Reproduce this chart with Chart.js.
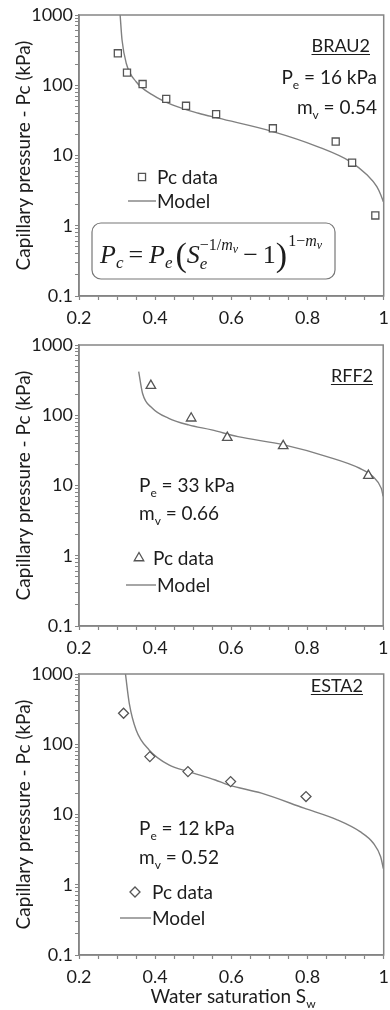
<!DOCTYPE html>
<html>
<head>
<meta charset="utf-8">
<script src="https://cdn.jsdelivr.net/npm/chart.js@4.4.1/dist/chart.umd.min.js"></script>
<style>
  body { margin: 0; background: #fff; }
  canvas { display: block; }
</style>
</head>
<body>
<canvas id="brau" width="390" height="330"></canvas>
<canvas id="rff" width="390" height="330"></canvas>
<canvas id="esta" width="390" height="350"></canvas>
<script>
// --- tick labels ---
const xTickLabels = [0.2, 0.4, 0.6, 0.8, 1];
const yTickLabels = [0.1, 1, 10, 100, 1000];

// --- BRAU2 ---
const brauSw = [0.302, 0.326, 0.367, 0.429, 0.481, 0.560, 0.709, 0.874, 0.917, 0.978];
const brauPc = [285, 151, 104, 64, 51, 38.7, 24.4, 15.8, 7.9, 1.40];
const brauModelSw = [0.308, 0.313, 0.324, 0.350, 0.393, 0.445, 0.514, 0.566, 0.709, 0.826, 0.912, 0.956, 0.982, 0.993, 0.999];
const brauModelPc = [1000, 441, 206, 112, 72.8, 52.5, 40, 34, 21.9, 13.4, 8.2, 5.3, 3.6, 2.7, 2.2];

// --- RFF2 ---
const rffSw = [0.389, 0.495, 0.590, 0.737, 0.961];
const rffPc = [264, 90.6, 48, 36.6, 13.8];
const rffModelSw = [0.357, 0.367, 0.393, 0.436, 0.488, 0.549, 0.618, 0.739, 0.852, 0.938, 0.973, 0.995, 1.0];
const rffModelPc = [417, 206, 126, 90.6, 72.8, 61.8, 49.6, 37.8, 25.8, 17.6, 13.4, 9.1, 7.0];

// --- ESTA2 ---
const estaSw = [0.317, 0.386, 0.486, 0.598, 0.796];
const estaPc = [276, 66.7, 40.8, 29.4, 18.0];
const estaModelSw = [0.322, 0.332, 0.350, 0.384, 0.436, 0.488, 0.558, 0.592, 0.679, 0.791, 0.878, 0.938, 0.973, 0.992, 0.999];
const estaModelPc = [1000, 383, 160, 83, 50.8, 40.8, 31, 26.4, 20.1, 12.3, 8.4, 5.7, 3.9, 2.5, 1.7];

const FONT = 'Lato, "Open Sans", sans-serif';
const MATH = '"Liberation Serif", "DejaVu Serif", serif';
const INK = '#1c1c1c';
const GREY = '#858585';

// text with subscripts: parts = [[text, isSub], ...]
function richText(ctx, parts, x, y, align, size) {
    const big = size + 'px ' + FONT;
    const small = Math.round(size * 0.62) + 'px ' + FONT;
    let w = 0;
    parts.forEach(p => { ctx.font = p[1] ? small : big; w += ctx.measureText(p[0]).width; });
    let cx = align === 'right' ? x - w : align === 'center' ? x - w / 2 : x;
    const start = cx;
    parts.forEach(p => {
        ctx.font = p[1] ? small : big;
        ctx.fillText(p[0], cx, y + (p[1] ? size * 0.28 : 0));
        cx += ctx.measureText(p[0]).width;
    });
    return [start, cx];
}

function marker(ctx, style, x, y, r) {
    ctx.beginPath();
    if (style === 'rect') {
        const h = r * Math.SQRT1_2;
        ctx.rect(x - h, y - h, 2 * h, 2 * h);
    } else if (style === 'triangle') {
        ctx.moveTo(x, y - r);
        ctx.lineTo(x + 0.866 * r, y + 0.5 * r);
        ctx.lineTo(x - 0.866 * r, y + 0.5 * r);
        ctx.closePath();
    } else {
        ctx.moveTo(x - r, y);
        ctx.lineTo(x, y - r);
        ctx.lineTo(x + r, y);
        ctx.lineTo(x, y + r);
        ctx.closePath();
    }
    ctx.fillStyle = '#fff';
    ctx.fill();
    ctx.strokeStyle = '#555';
    ctx.lineWidth = 1.3;
    ctx.stroke();
}

function drawFormula(ctx, x, y) {
    const it = s => 'italic ' + s + 'px ' + MATH;
    const rm = s => s + 'px ' + MATH;
    const put = (t, f, dx, dy) => { ctx.font = f; ctx.fillText(t, dx, y + dy); return ctx.measureText(t).width; };
    let cx = x;
    cx += put('P', it(26), cx, 0);
    cx += put('c', it(17), cx, 5) + 5;
    cx += put('=', rm(26), cx, 0) + 6;
    cx += put('P', it(26), cx, 0);
    cx += put('e', it(17), cx, 5) + 3;
    cx += put('(', rm(34), cx, 3);
    cx += put('S', it(26), cx, 0);
    put('e', it(17), cx, 6);
    cx += put('\u22121/', rm(16), cx, -13);
    cx += put('m', it(16), cx, -13);
    cx += put('v', it(12), cx, -10) + 5;
    cx += put('\u2212', rm(26), cx, 0) + 5;
    cx += put('1', rm(26), cx, 0);
    cx += put(')', rm(34), cx, 3) + 1;
    cx += put('1\u2212', rm(16), cx, -17);
    cx += put('m', it(16), cx, -17);
    put('v', it(12), cx, -14);
}

const panelPlugin = {
    id: 'panel',
    afterDraw(chart, args, o) {
        const ctx = chart.ctx;
        const a = chart.chartArea;
        ctx.save();
        // frame
        ctx.strokeStyle = GREY;
        ctx.lineWidth = 1.5;
        ctx.strokeRect(a.left, a.top, a.right - a.left, a.bottom - a.top);

        ctx.fillStyle = INK;
        ctx.textBaseline = 'alphabetic';
        // sample name, underlined
        ctx.font = '18px ' + FONT;
        const nw = ctx.measureText(o.name).width;
        ctx.textAlign = 'left';
        ctx.fillText(o.name, o.nameX - nw, o.nameY + 6.5);
        ctx.strokeStyle = INK;
        ctx.lineWidth = 1.1;
        ctx.beginPath();
        ctx.moveTo(o.nameX - nw, o.nameY + 9.5);
        ctx.lineTo(o.nameX, o.nameY + 9.5);
        ctx.stroke();

        // parameters
        richText(ctx, [['P', false], ['e', true], [' = ' + o.pe + ' kPa', false]], o.paramX, o.peY + 6.5, o.paramAlign, 19);
        richText(ctx, [['m', false], ['v', true], [' = ' + o.mv, false]], o.paramX, o.mvY + 6.5, o.paramAlign, 19);

        // legend
        marker(ctx, o.marker, o.legX, o.legY, o.radius);
        ctx.fillStyle = INK;
        ctx.font = '19px ' + FONT;
        ctx.fillText('Pc data', o.legTextX, o.legY + 6.5);
        ctx.strokeStyle = '#808080';
        ctx.lineWidth = 1.4;
        ctx.beginPath();
        ctx.moveTo(o.lineX0, o.lineY);
        ctx.lineTo(o.lineX1, o.lineY);
        ctx.stroke();
        ctx.fillText('Model', o.lineX1 + 1, o.lineY + 6.5);

        if (o.formula) {
            ctx.strokeStyle = '#777';
            ctx.lineWidth = 1.2;
            ctx.beginPath();
            ctx.roundRect(92, 223, 243, 56, 9);
            ctx.stroke();
            ctx.fillStyle = INK;
            drawFormula(ctx, 100, 263);
        }

        if (o.xTitle) {
            ctx.fillStyle = INK;
            richText(ctx, [['Water saturation S', false], ['w', true]], 233, 343, 'center', 19);
        }
        ctx.restore();
    }
};

function makeChart(id, sw, pc, msw, mpc, notes, top, xHeight) {
    return new Chart(document.getElementById(id), {
        type: 'scatter',
        data: {
            datasets: [{
                label: 'Pc data',
                data: sw.map((x, i) => ({ x: x, y: pc[i] })),
                pointStyle: notes.marker,
                pointRadius: notes.radius,
                pointBackgroundColor: '#fff',
                pointBorderColor: '#555',
                pointBorderWidth: 1.3,
                order: 1
            }, {
                label: 'Model',
                data: msw.map((x, i) => ({ x: x, y: mpc[i] })),
                showLine: true,
                pointRadius: 0,
                borderColor: '#808080',
                borderWidth: 1.4,
                cubicInterpolationMode: 'monotone',
                order: 2
            }]
        },
        options: {
            responsive: false,
            animation: false,
            events: [],
            layout: { padding: { left: 0, right: 3, top: top, bottom: 0 } },
            plugins: {
                legend: { display: false },
                tooltip: { enabled: false },
                panel: notes
            },
            scales: {
                x: {
                    type: 'linear',
                    min: 0.2,
                    max: 1,
                    ticks: {
                        stepSize: 0.05,
                        autoSkip: false,
                        maxRotation: 0,
                        padding: 7,
                        color: INK,
                        font: { family: FONT, size: 18 },
                        callback: v => {
                            const hit = xTickLabels.find(t => Math.abs(t - v) < 1e-6);
                            return hit === undefined ? '' : String(hit);
                        }
                    },
                    grid: { drawOnChartArea: false, tickLength: 4, tickColor: GREY, tickWidth: 1.2 },
                    border: { color: GREY, width: 1.5 },
                    afterFit: s => { s.height = xHeight; s.paddingLeft = 0; s.paddingRight = 0; }
                },
                y: {
                    type: 'logarithmic',
                    min: 0.1,
                    max: 1000,
                    afterBuildTicks: s => {
                        const t = [];
                        yTickLabels.forEach((d, i) => {
                            if (i === yTickLabels.length - 1) { t.push({ value: d }); return; }
                            for (let k = 1; k <= 9; k++) t.push({ value: d * k });
                        });
                        s.ticks = t;
                    },
                    ticks: {
                        autoSkip: false,
                        padding: 2,
                        color: INK,
                        font: { family: FONT, size: 18 },
                        callback: v => yTickLabels.includes(v) ? String(v) : ''
                    },
                    grid: { drawOnChartArea: false, tickLength: 4, tickColor: GREY, tickWidth: 1 },
                    border: { color: GREY, width: 1.5 },
                    title: {
                        display: true,
                        text: 'Capillary pressure - Pc (kPa)',
                        color: INK,
                        font: { family: FONT, size: 19 },
                        padding: { top: 12, bottom: 0 }
                    },
                    afterFit: s => { s.width = 79; s.paddingTop = 0; s.paddingBottom = 0; }
                }
            }
        },
        plugins: [panelPlugin]
    });
}

makeChart('brau', brauSw, brauPc, brauModelSw, brauModelPc, {
    name: 'BRAU2', nameX: 370, nameY: 45,
    pe: '16', mv: '0.54', paramX: 377, paramAlign: 'right', peY: 77, mvY: 107,
    marker: 'rect', radius: 5, legX: 142, legY: 177, legTextX: 157,
    lineX0: 128, lineX1: 156, lineY: 201, formula: true, xTitle: false
}, 15, 34);

makeChart('rff', rffSw, rffPc, rffModelSw, rffModelPc, {
    name: 'RFF2', nameX: 373, nameY: 45,
    pe: '33', mv: '0.66', paramX: 139, paramAlign: 'left', peY: 155, mvY: 183,
    marker: 'triangle', radius: 5.5, legX: 139, legY: 228, legTextX: 153,
    lineX0: 126, lineX1: 156, lineY: 255, formula: false, xTitle: false
}, 15, 34);

makeChart('esta', estaSw, estaPc, estaModelSw, estaModelPc, {
    name: 'ESTA2', nameX: 363, nameY: 25,
    pe: '12', mv: '0.52', paramX: 139, paramAlign: 'left', peY: 168, mvY: 197,
    marker: 'rectRot', radius: 5, legX: 135, legY: 232, legTextX: 152,
    lineX0: 120, lineX1: 151, lineY: 258, formula: false, xTitle: true
}, 14, 55);
</script>
</body>
</html>
